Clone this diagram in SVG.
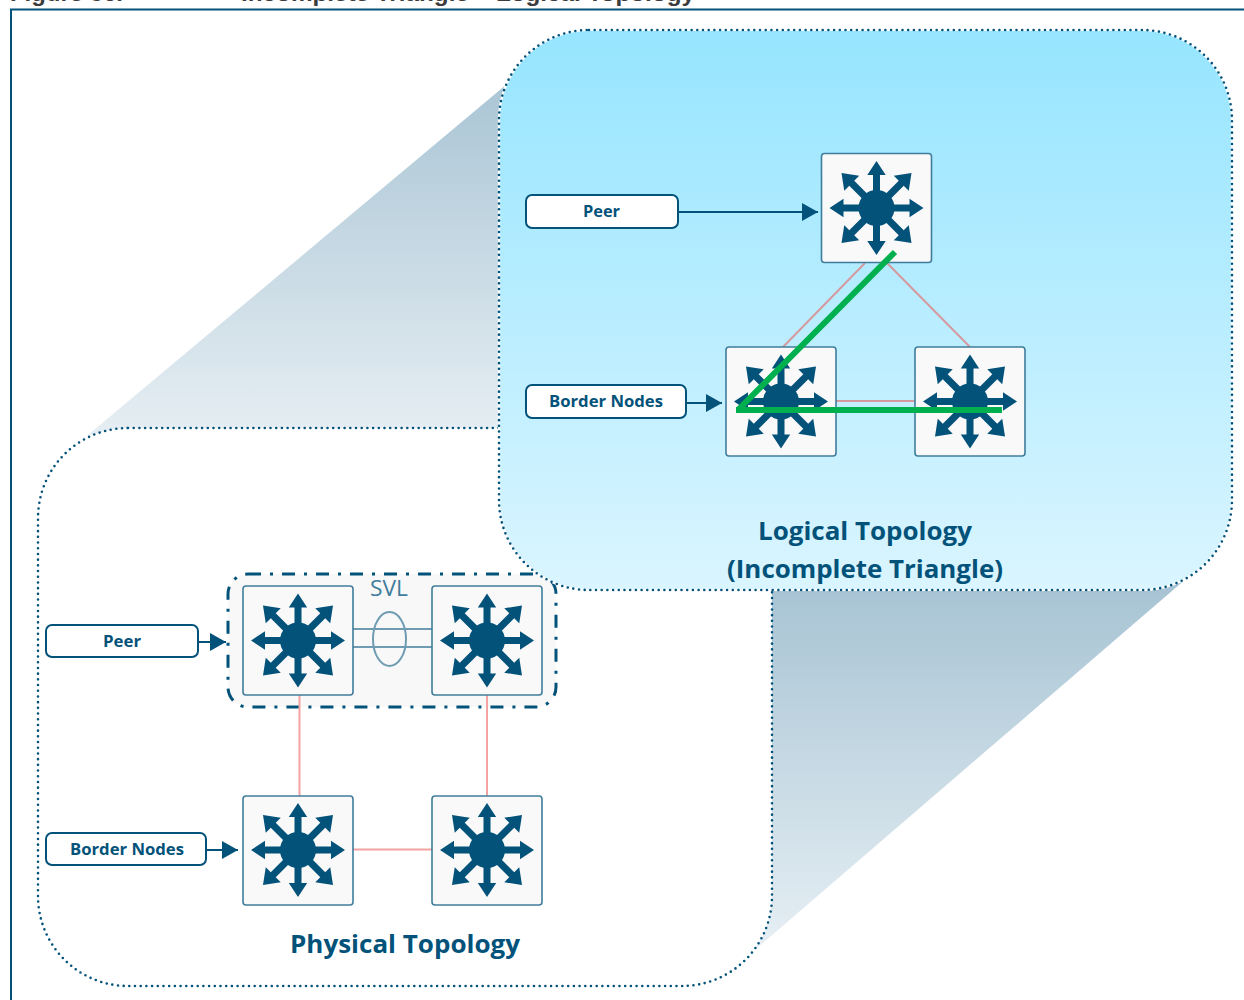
<svg xmlns="http://www.w3.org/2000/svg" width="1244" height="1000" viewBox="0 0 1244 1000">
<defs>
<style>
.lbl{font-family:"Open Sans","Liberation Sans",sans-serif;font-weight:700;fill:#03527a;text-anchor:start}
.s16{font-size:16px}
.s25{font-size:25px}
.ttl{font-family:"Liberation Sans",Arial,sans-serif;font-weight:700;font-size:22px;fill:#3c3c3c}
.sw{fill:#f9f9f9;stroke:#3f7d9c;stroke-width:1.6}
.tag{fill:#fff;stroke:#03527a;stroke-width:2}
.dot{fill:none;stroke:#03527a;stroke-width:2.6;stroke-linecap:round;stroke-dasharray:0 5.7}
.pink{stroke:#f4a2a2;stroke-width:2;fill:none}
.pinkb{stroke:#d59a9f;stroke-width:2;fill:none}
.con{stroke:#03527a;stroke-width:2;fill:none}
.svl{stroke:#6f9cb2;stroke-width:2;fill:none}
.green{stroke:#00b04f;stroke-width:6;fill:none}
</style>
<linearGradient id="gBlue" x1="0" y1="0" x2="0" y2="1"><stop offset="0" stop-color="#96e5ff"/><stop offset="1" stop-color="#daf5ff"/></linearGradient>
<linearGradient id="gA" gradientUnits="userSpaceOnUse" x1="0" y1="70" x2="0" y2="435"><stop offset="0" stop-color="#a8c4d4"/><stop offset="1" stop-color="#e6eef3"/></linearGradient>
<linearGradient id="gB" gradientUnits="userSpaceOnUse" x1="0" y1="590" x2="0" y2="948"><stop offset="0" stop-color="#a8c4d4"/><stop offset="1" stop-color="#e6eff4"/></linearGradient>
<marker id="ah" markerUnits="userSpaceOnUse" markerWidth="17" markerHeight="18" refX="16" refY="9" orient="auto"><path d="M0 0L16 9L0 18Z" fill="#03527a"/></marker>
<g id="a"><path d="M-3.500 0V-33H-9.200L0 -47L9.200 -33H3.500V0Z"/></g>
<g id="d"><path d="M-3.500 0V-35H-10.600L0 -49.500L10.600 -35H3.500V0Z"/></g>
<g id="icon" fill="#03527a"><circle r="18"/><use href="#a"/><use href="#a" transform="rotate(90)"/><use href="#a" transform="rotate(180)"/><use href="#a" transform="rotate(270)"/><use href="#d" transform="rotate(45)"/><use href="#d" transform="rotate(135)"/><use href="#d" transform="rotate(225)"/><use href="#d" transform="rotate(315)"/></g>
</defs>
<rect width="1244" height="1000" fill="#fff"/>
<text class="ttl" x="10" y="1" textLength="113" lengthAdjust="spacingAndGlyphs">Figure 36.</text>
<text class="ttl" x="241" y="1" textLength="454" lengthAdjust="spacingAndGlyphs">Incomplete Triangle – Logical Topology</text>
<path d="M11 1000V9.500H1244" fill="none" stroke="#03527a" stroke-width="2"/>
<path d="M520 73L88 435H520Z" fill="url(#gA)"/>
<path d="M700 578H1187L757 948L700 900Z" fill="url(#gB)"/>
<g id="physical-panel"><rect x="38" y="428" width="734" height="558" rx="90" fill="#fff"/><rect class="dot" x="38" y="428" width="734" height="558" rx="90"/></g>
<g id="svl-group"><rect x="228" y="574" width="328" height="133" rx="20" fill="#f8f8f8" stroke="#03527a" stroke-width="3" stroke-dasharray="13 9 3 9"/></g>
<g id="logical-panel"><rect x="499" y="30" width="733" height="560" rx="90" fill="url(#gBlue)" stroke="#fff" stroke-width="2.200"/><rect class="dot" x="499" y="30" width="733" height="560" rx="90"/></g>
<g id="connectors">
<path class="pinkb" d="M865 263L783 347M887 263L970 347M836 401H915"/>
<path class="pink" d="M299.500 695V796M487 695V796M353 849.500H432"/>
<path class="svl" d="M353 629H432M353 647H432"/>
<ellipse class="svl" cx="389.500" cy="639" rx="16.500" ry="27"/>
<path class="con" d="M678 212H818" marker-end="url(#ah)"/>
<path class="con" d="M686 403H722" marker-end="url(#ah)"/>
<path class="con" d="M198 642H226" marker-end="url(#ah)"/>
<path class="con" d="M206 850H238" marker-end="url(#ah)"/>
</g>
<g id="sw-logical-top"><rect class="sw" x="821.500" y="153.500" width="110" height="109" rx="3"/><use href="#icon" x="876.500" y="208"/></g>
<g id="sw-logical-left"><rect class="sw" x="726" y="347" width="110" height="109" rx="3"/><use href="#icon" x="781" y="401.500"/></g>
<g id="sw-logical-right"><rect class="sw" x="915" y="347" width="110" height="109" rx="3"/><use href="#icon" x="970" y="401.500"/></g>
<g id="sw-phys-1"><rect class="sw" x="243" y="586" width="110" height="109" rx="3"/><use href="#icon" x="298" y="640.500"/></g>
<g id="sw-phys-2"><rect class="sw" x="432" y="586" width="110" height="109" rx="3"/><use href="#icon" x="487" y="640.500"/></g>
<g id="sw-phys-3"><rect class="sw" x="243" y="796" width="110" height="109" rx="3"/><use href="#icon" x="298" y="850"/></g>
<g id="sw-phys-4"><rect class="sw" x="432" y="796" width="110" height="109" rx="3"/><use href="#icon" x="487" y="850"/></g>
<g id="green-path"><path class="green" d="M895 252L738 410M736 410H1002"/></g>
<g id="tag-logical-peer"><rect class="tag" x="526" y="195" width="152" height="33" rx="6"/><text class="lbl s16" x="583" y="217" textLength="37" lengthAdjust="spacingAndGlyphs">Peer</text></g>
<g id="tag-logical-border"><rect class="tag" x="526" y="385" width="160" height="33" rx="6"/><text class="lbl s16" x="549" y="407" textLength="114" lengthAdjust="spacingAndGlyphs">Border Nodes</text></g>
<g id="tag-phys-peer"><rect class="tag" x="46" y="625" width="152" height="32" rx="6"/><text class="lbl s16" x="103" y="647" textLength="38" lengthAdjust="spacingAndGlyphs">Peer</text></g>
<g id="tag-phys-border"><rect class="tag" x="46" y="833" width="160" height="32" rx="6"/><text class="lbl s16" x="70" y="855" textLength="114" lengthAdjust="spacingAndGlyphs">Border Nodes</text></g>
<text x="370" y="596" font-family="Open Sans,Liberation Sans,sans-serif" font-size="22" fill="#3f7d9c" textLength="38" lengthAdjust="spacingAndGlyphs">SVL</text>
<text class="lbl s25" x="758" y="540" textLength="214" lengthAdjust="spacingAndGlyphs">Logical Topology</text>
<text class="lbl s25" x="727" y="578" textLength="276" lengthAdjust="spacingAndGlyphs">(Incomplete Triangle)</text>
<text class="lbl s25" x="290" y="953" textLength="230" lengthAdjust="spacingAndGlyphs">Physical Topology</text>
</svg>
